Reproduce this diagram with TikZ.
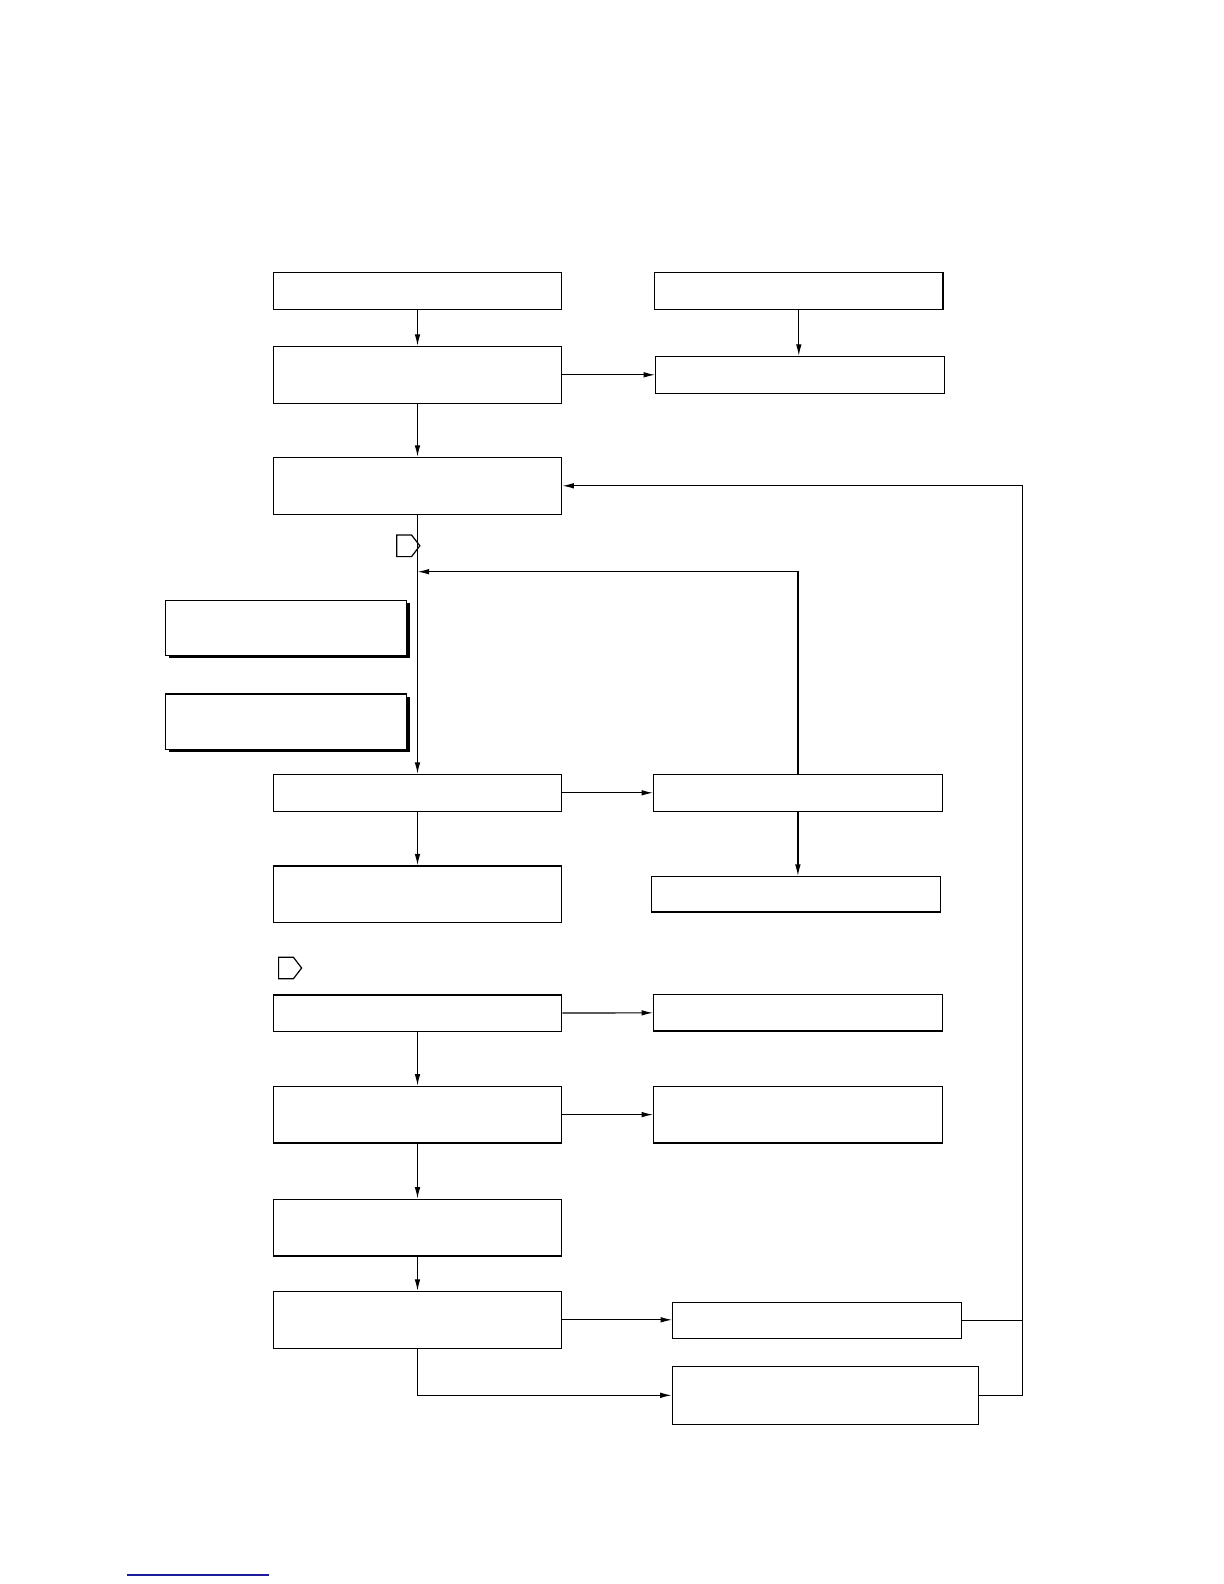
\documentclass[tikz,border=0pt]{standalone}
\usepackage{xcolor}
\definecolor{LinkBlue}{HTML}{1C1C9C}
\usetikzlibrary{arrows.meta,positioning,shapes.symbols,shadows}

\begin{document}
\begin{tikzpicture}[x=0.5pt,y=-0.5pt,line width=0.6pt,
  flowbox/.style={draw,fill=white,inner sep=0pt,minimum width=144.2pt},
  onerow/.style={minimum height=18.3pt},
  tworow/.style={minimum height=28.3pt},
  notebox/.style={draw,fill=white,inner sep=0pt,minimum width=120.7pt,
    minimum height=27.7pt,
    drop shadow={shadow xshift=1.6pt,shadow yshift=-1.3pt,opacity=1,fill=black}},
  tabmark/.style={draw,signal,signal to=east,signal pointer angle=105,
    inner sep=0pt,minimum width=11.5pt,minimum height=10.8pt},
  arr/.style={-{Latex[length=5.8pt,width=2.8pt]}}]
  \useasboundingbox (0,0) rectangle (1224,1584);
  % Top rows
  \node[flowbox,onerow] (L1) at (417.5,290.8) {};
  \node[flowbox,onerow] (R1) at (798.8,290.8) {};
  \node[flowbox,tworow] (L2) at (417.5,374.8) {};
  \node[flowbox,onerow] (R2) at (800,374.8) {};
  \node[flowbox,tworow] (L3) at (417.5,485.8) {};
  % Side notes and markers
  \node[tabmark] (P1) at (404.2,545.8) {};
  \node[notebox] (N1) at (286,628) {};
  \node[notebox] (N2) at (286,721.7) {};
  % Middle rows
  \node[flowbox,onerow] (L4) at (417.5,792.8) {};
  \node[flowbox,onerow] (R4) at (797.9,792.8) {};
  \node[flowbox,tworow] (L5) at (417.5,894.3) {};
  \node[flowbox,onerow,minimum height=17.7pt] (R5) at (795.9,894.3) {};
  \node[tabmark] (P2) at (286,968) {};
  % Lower rows
  \node[flowbox,onerow] (L6) at (417.5,1013.2) {};
  \node[flowbox,onerow] (R6) at (797.9,1012.6) {};
  \node[flowbox,tworow] (L7) at (417.5,1114.6) {};
  \node[flowbox,tworow] (R7) at (797.9,1114.6) {};
  \node[flowbox,tworow] (L8) at (417.5,1227.6) {};
  \node[flowbox,tworow] (L9) at (417.5,1319.8) {};
  \node[flowbox,onerow] (R9a) at (817,1320.5) {};
  \node[flowbox,tworow,minimum width=153.2pt,minimum height=29pt]
    (R9b) at (825.5,1395.3) {};
  % Junctions
  \coordinate (J1) at (417.5,571.7);
  \coordinate (RT) at (1022.3,485.8);
  % Connectors
  \draw[arr] (L1) -- (L2);
  \draw[arr] (R1.south) -- (R1.south |- R2.north);
  \draw[arr] (L2) -- (R2);
  \draw[arr] (L2) -- (L3);
  \draw[arr] (L3) -- (L4);
  \draw[arr] (R4.north) |- (J1);
  \draw[arr] (L4) -- (R4);
  \draw[arr] (L4) -- (L5);
  \draw[arr] (R4.south) -- (R4.south |- R5.north);
  \draw[arr] (L6) -- (R6);
  \draw[arr] (L6) -- (L7);
  \draw[arr] (L7) -- (R7);
  \draw[arr] (L7) -- (L8);
  \draw[arr] (L8) -- (L9);
  \draw[arr] (L9.east) -- (L9.east -| R9a.west);
  \draw[arr] (L9.south) |- (R9b.west);
  \draw (R9a.east) -- (R9a.east -| RT);
  \draw[arr] (R9b.east) -| (RT) -- (L3.east);
  % Page link rule
  \draw[LinkBlue,line width=1pt] (127,1575) -- (269,1575);
\end{tikzpicture}
\end{document}
